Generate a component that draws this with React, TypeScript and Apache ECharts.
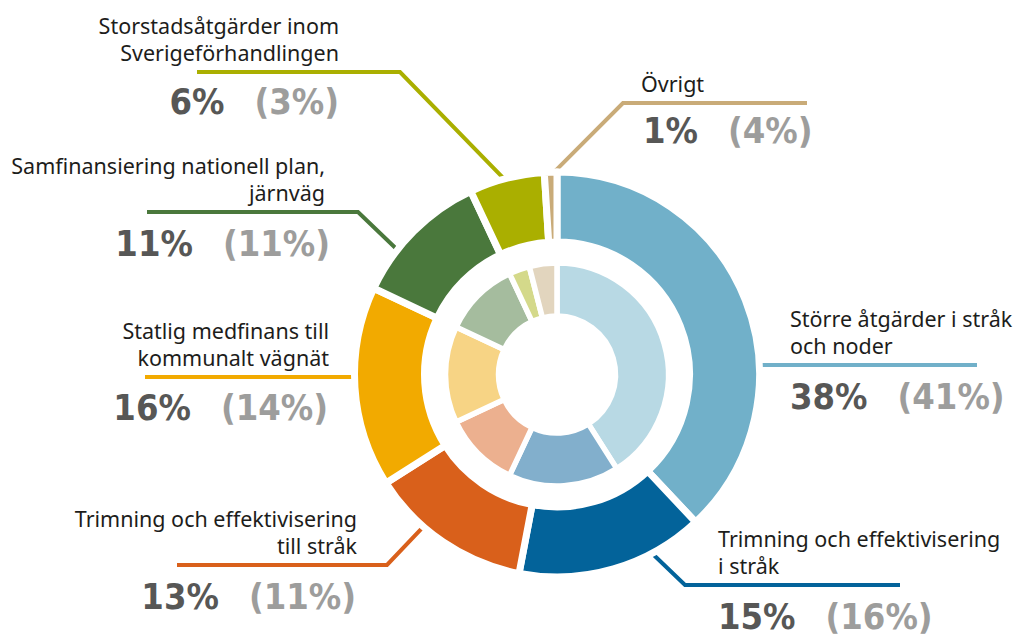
import React, { useEffect, useRef } from "react";
import * as echarts from "echarts";

// ---- data ----
const categories = [
  "Större åtgärder i stråk\noch noder",
  "Trimning och effektivisering\ni stråk",
  "Trimning och effektivisering\ntill stråk",
  "Statlig medfinans till\nkommunalt vägnät",
  "Samfinansiering nationell plan,\njärnväg",
  "Storstadsåtgärder inom\nSverigeförhandlingen",
  "Övrigt",
];
const outerValues = [38, 15, 13, 16, 11, 6, 1];
const innerValues = [41, 16, 11, 14, 11, 3, 4];

// ---- styles ----
const outerColors = ["#71b0c9", "#03639a", "#d9601b", "#f2aa00", "#4a783c", "#aaaf00", "#c9ab78"];
const innerColors = ["#b8d9e4", "#82afcc", "#ecb08f", "#f7d485", "#a5bc9e", "#d4d98a", "#e2d5be"];

const CX = 557;
const CY = 374.5;
const R_EDGE = 198;

// label layout (annotation positions)
type Lay = {
  side: "left" | "right";
  frac: number | null; // position of leader start inside the slice (null = horizontal line)
  elbowX: number | null;
  endX: number;
  lineY: number;
  textX: number;
  valueX: number;
  valueY: number;
};
const layout: Lay[] = [
  { side: "right", frac: null, elbowX: null, endX: 977, lineY: 365, textX: 790, valueX: 790, valueY: 396 },
  { side: "right", frac: 0.29, elbowX: 685, endX: 900, lineY: 585, textX: 718, valueX: 718, valueY: 616.5 },
  { side: "left", frac: 0.65, elbowX: 387, endX: 177, lineY: 565, textX: 357, valueX: 356, valueY: 596 },
  { side: "left", frac: null, elbowX: null, endX: 145, lineY: 377, textX: 329, valueX: 328, valueY: 407 },
  { side: "left", frac: 0.32, elbowX: 358, endX: 147, lineY: 212, textX: 325, valueX: 330, valueY: 243 },
  { side: "left", frac: 0.5, elbowX: 400, endX: 197, lineY: 72, textX: 339, valueX: 339, valueY: 101 },
  { side: "right", frac: 0.4, elbowX: 623, endX: 807, lineY: 103, textX: 641, valueX: 643, valueY: 130 },
];

const FONT = "'Noto Sans', 'Open Sans', sans-serif";
const NUM_FONT = "'DejaVu Sans Condensed', 'Noto Sans', sans-serif";

function leaderPoints(i: number): number[][] {
  const L = layout[i];
  const total = outerValues.reduce((a, b) => a + b, 0);
  if (L.frac === null) {
    const dy = L.lineY - CY;
    const dx = Math.sqrt(R_EDGE * R_EDGE - dy * dy);
    const sx = L.side === "right" ? CX + dx : CX - dx;
    return [
      [sx, L.lineY],
      [L.endX, L.lineY],
    ];
  }
  let cum = 0;
  for (let k = 0; k < i; k++) cum += outerValues[k];
  const theta = ((cum + L.frac * outerValues[i]) / total) * Math.PI * 2;
  const sx = CX + R_EDGE * Math.sin(theta);
  const sy = CY - R_EDGE * Math.cos(theta);
  return [
    [sx, sy],
    [L.elbowX as number, L.lineY],
    [L.endX, L.lineY],
  ];
}

export default function App() {
  const ref = useRef<HTMLDivElement>(null);
  useEffect(() => {
    if (!ref.current) return;
    const chart = echarts.init(ref.current, undefined, { renderer: "svg" });
    const option: any = {
      animation: false,
      backgroundColor: "#ffffff",
      tooltip: { show: false },
      series: [
        {
          type: "pie",
          name: "outer",
          center: [CX, CY],
          radius: [132.5, 202.5],
          startAngle: 90,
          clockwise: true,
          silent: true,
          avoidLabelOverlap: false,
          itemStyle: { borderColor: "#ffffff", borderWidth: 7 },
          label: {
            show: true,
            position: "outside",
            formatter: (p: any) => p.name,
            fontFamily: FONT,
            fontSize: 21.5,
            lineHeight: 27,
            color: "#1d1d1b",
          },
          labelLine: { show: true, length: 10, length2: 10, lineStyle: { width: 4 } },
          labelLayout: (p: any) => {
            const L = layout[p.dataIndex];
            return {
              x: L.textX,
              y: L.lineY - 6,
              align: L.side === "right" ? "left" : "right",
              verticalAlign: "bottom",
              labelLinePoints: leaderPoints(p.dataIndex),
            };
          },
          emphasis: { disabled: true },
          data: categories.map((c, i) => ({
            name: c,
            value: outerValues[i],
            itemStyle: { color: outerColors[i] },
            labelLine: { lineStyle: { color: outerColors[i], width: 4 } },
          })),
        },
        {
          type: "pie",
          name: "inner",
          center: [CX, CY],
          radius: [58.5, 111.5],
          startAngle: 90,
          clockwise: true,
          silent: true,
          avoidLabelOverlap: false,
          itemStyle: { borderColor: "#ffffff", borderWidth: 5.5 },
          label: {
            show: true,
            position: "outside",
            formatter: (p: any) =>
              `{a|${outerValues[p.dataIndex]}%}{s|}{b|(${innerValues[p.dataIndex]}%)}`,
            rich: {
              a: { fontFamily: NUM_FONT, fontSize: 36, fontWeight: "bold", color: "#575756", lineHeight: 36 },
              s: { width: 30, lineHeight: 36 },
              b: { fontFamily: NUM_FONT, fontSize: 36, fontWeight: "bold", color: "#9d9d9c", lineHeight: 36 },
            },
          },
          labelLine: { show: false },
          labelLayout: (p: any) => {
            const L = layout[p.dataIndex];
            return {
              x: L.valueX,
              y: L.valueY,
              align: L.side === "right" ? "left" : "right",
              verticalAlign: "middle",
            };
          },
          emphasis: { disabled: true },
          data: categories.map((c, i) => ({
            name: c,
            value: innerValues[i],
            itemStyle: { color: innerColors[i] },
          })),
        },
      ],
    };
    chart.setOption(option);
    return () => chart.dispose();
  }, []);
  return (
    <div
      ref={ref}
      style={{ position: "absolute", left: 0, top: 0, width: 1014, height: 638, background: "#fff" }}
    />
  );
}
